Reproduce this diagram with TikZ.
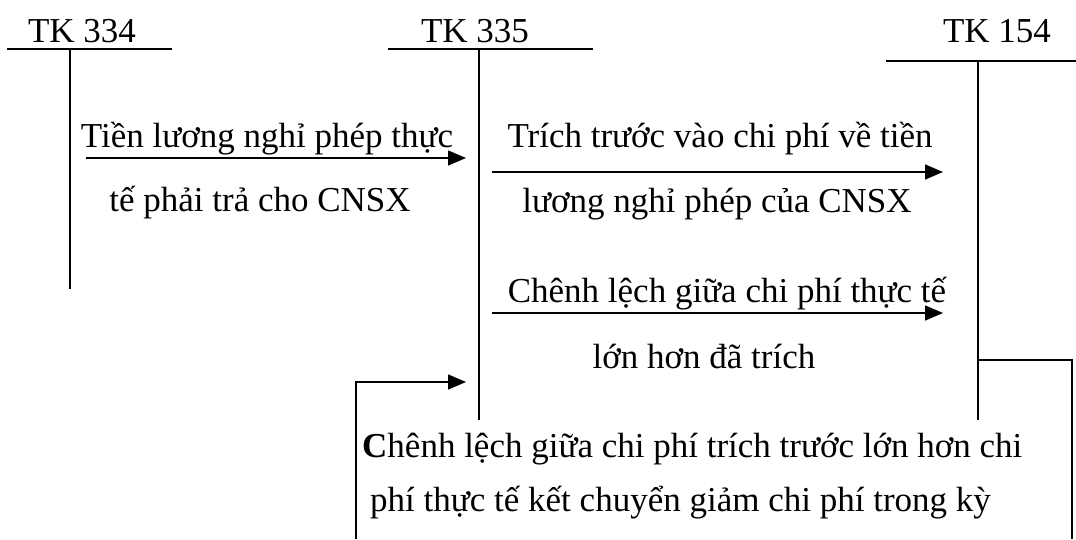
\documentclass[tikz,border=0pt]{standalone}
\usepackage{fontspec}
\setmainfont{Liberation Serif}
\usetikzlibrary{arrows.meta, positioning}

\tikzset{
  tline/.style={line width=1.5pt},
  flow/.style={line width=1.5pt, -{Triangle[length=18pt,width=15pt]}},
  lbl/.style={anchor=base, inner sep=0pt, font=\fontsize{35}{42}\selectfont},
}

\begin{document}
\begin{tikzpicture}[x=1pt, y=-1pt]
  \useasboundingbox (0,0) rectangle (1076,539);

  % T-account 334
  \node[lbl] (tk334) at (82,42) {TK 334};
  \coordinate (l334) at (7,49);
  \coordinate (r334) at (172,49);
  \coordinate (m334) at (70,49);
  \coordinate (b334) at (70,289);
  \draw[tline] (l334) -- (r334);
  \draw[tline] (m334) -- (b334);

  % T-account 335
  \node[lbl] (tk335) at (475,42) {TK 335};
  \coordinate (l335) at (388,49);
  \coordinate (r335) at (593,49);
  \coordinate (m335) at (479,49);
  \coordinate (b335) at (479,420);
  \draw[tline] (l335) -- (r335);
  \draw[tline] (m335) -- (b335);

  % T-account 154
  \node[lbl] (tk154) at (997,42) {TK 154};
  \coordinate (l154) at (886,61);
  \coordinate (r154) at (1076,61);
  \coordinate (m154) at (978,61);
  \coordinate (b154) at (978,420);
  \draw[tline] (l154) -- (r154);
  \draw[tline] (m154) -- (b154);

  % 334 -> 335
  \coordinate (f1s) at (86,158);
  \coordinate (f1e) at (466,158);
  \draw[flow] (f1s) -- (f1e);
  \node[lbl] (f1a) at (267,147) {Tiền lương nghỉ phép thực};
  \node[lbl] (f1b) at (260,211) {tế phải trả cho CNSX};

  % 335 -> 154, trich truoc
  \coordinate (f2s) at (492,172);
  \coordinate (f2e) at (943,172);
  \draw[flow] (f2s) -- (f2e);
  \node[lbl] (f2a) at (720,147) {Trích trước vào chi phí về tiền};
  \node[lbl] (f2b) at (717,212) {lương nghỉ phép của CNSX};

  % 335 -> 154, chenh lech
  \coordinate (f3s) at (492,313);
  \coordinate (f3e) at (943,313);
  \draw[flow] (f3s) -- (f3e);
  \node[lbl] (f3a) at (727,302) {Chênh lệch giữa chi phí thực tế};
  \node[lbl] (f3b) at (704,368) {lớn hơn đã trích};

  % 154 -> 335, ket chuyen giam
  \coordinate (f4a) at (978,360);
  \coordinate (f4b) at (1072,360);
  \coordinate (f4c) at (1072,539);
  \coordinate (f4d) at (356,539);
  \coordinate (f4e) at (356,382);
  \coordinate (f4f) at (466,382);
  \draw[tline] (f4a) -- (f4b) -- (f4c);
  \draw[flow] (f4d) -- (f4e) -- (f4f);
  \node[lbl, anchor=base west] (f4t) at (362,457) {\textbf{C}hênh lệch giữa chi phí trích trước lớn hơn chi};
  \node[lbl, anchor=base west] (f4u) at (370,511) {phí thực tế kết chuyển giảm chi phí trong kỳ};
\end{tikzpicture}
\end{document}
